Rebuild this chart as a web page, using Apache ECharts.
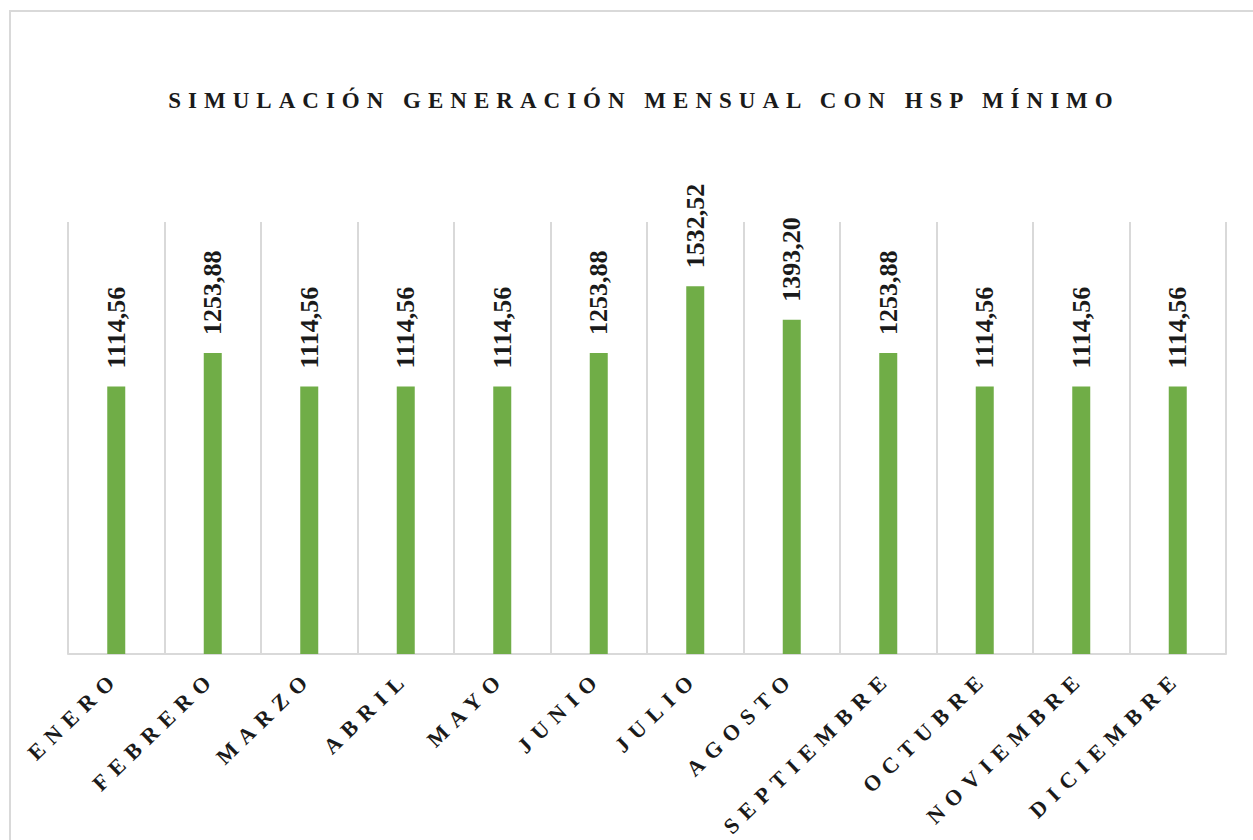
<!DOCTYPE html>
<html lang="es">
<head>
    <meta charset="UTF-8">
    <title>echarts</title>
 <style>
     html, body { margin:0; padding:0; background:#fff; }
     #main{
         width:1253px;
         height:840px;
          }
     /* spaced capitals for title and month names (svg renderer) */
     #main text[style*="23px"] { letter-spacing: 7px; }
     #main text[style*="22px"] { letter-spacing: 8px; }
  </style>
</head>
<body>
<div id="main"></div>
<script src="https://cdn.jsdelivr.net/npm/echarts@6/dist/echarts.min.js"></script>
<script>
    var meses = ['ENERO', 'FEBRERO', 'MARZO', 'ABRIL', 'MAYO', 'JUNIO', 'JULIO',
        'AGOSTO', 'SEPTIEMBRE', 'OCTUBRE', 'NOVIEMBRE', 'DICIEMBRE'];
    var generacion = [1114.56, 1253.88, 1114.56, 1114.56, 1114.56, 1253.88, 1532.52,
        1393.20, 1253.88, 1114.56, 1114.56, 1114.56];
    var titulo = 'SIMULACIÓN GENERACIÓN MENSUAL CON HSP MÍNIMO';

    var serif = "'Liberation Serif', 'Times New Roman', serif";
    var myChart = echarts.init(document.getElementById('main'), null, {renderer: 'svg'});

    var option = {
        backgroundColor: '#fff',
        animation: false,
        title: {
            text: titulo,
            left: 639,
            top: 84,
            textAlign: 'center',
            textStyle: {
                fontFamily: serif,
                fontSize: 23,
                fontWeight: 'bold',
                color: '#1a1a1a'
            }
        },
        graphic: [{
            type: 'rect',
            shape: {x: 10, y: 11, width: 1245, height: 840},
            style: {fill: 'none', stroke: '#d9d9d9', lineWidth: 2},
            silent: true
        }],
        grid: {
            left: 68,
            right: 27,
            top: 222,
            bottom: 186
        },
        xAxis: {
            type: 'category',
            data: meses,
            axisLine: {lineStyle: {color: '#d9d9d9', width: 2}},
            axisTick: {show: false},
            splitLine: {show: true, lineStyle: {color: '#d9d9d9', width: 2}},
            axisLabel: {
                interval: 0,
                rotate: 44,
                margin: 20,
                fontFamily: serif,
                fontSize: 22,
                fontWeight: 'bold',
                color: '#1a1a1a'
            }
        },
        yAxis: {
            type: 'value',
            min: 0,
            max: 1800,
            show: false,
            splitLine: {show: false}
        },
        series: [{
            type: 'bar',
            data: generacion,
            barWidth: 18,
            itemStyle: {color: '#70ad47'},
            label: {
                show: true,
                position: 'top',
                distance: 18,
                rotate: 90,
                align: 'left',
                verticalAlign: 'middle',
                fontFamily: serif,
                fontSize: 26,
                fontWeight: 'bold',
                color: '#1a1a1a',
                formatter: function (p) {
                    return p.value.toFixed(2).replace('.', ',');
                }
            }
        }]
    };

    myChart.setOption(option);
</script>
</body>
</html>
